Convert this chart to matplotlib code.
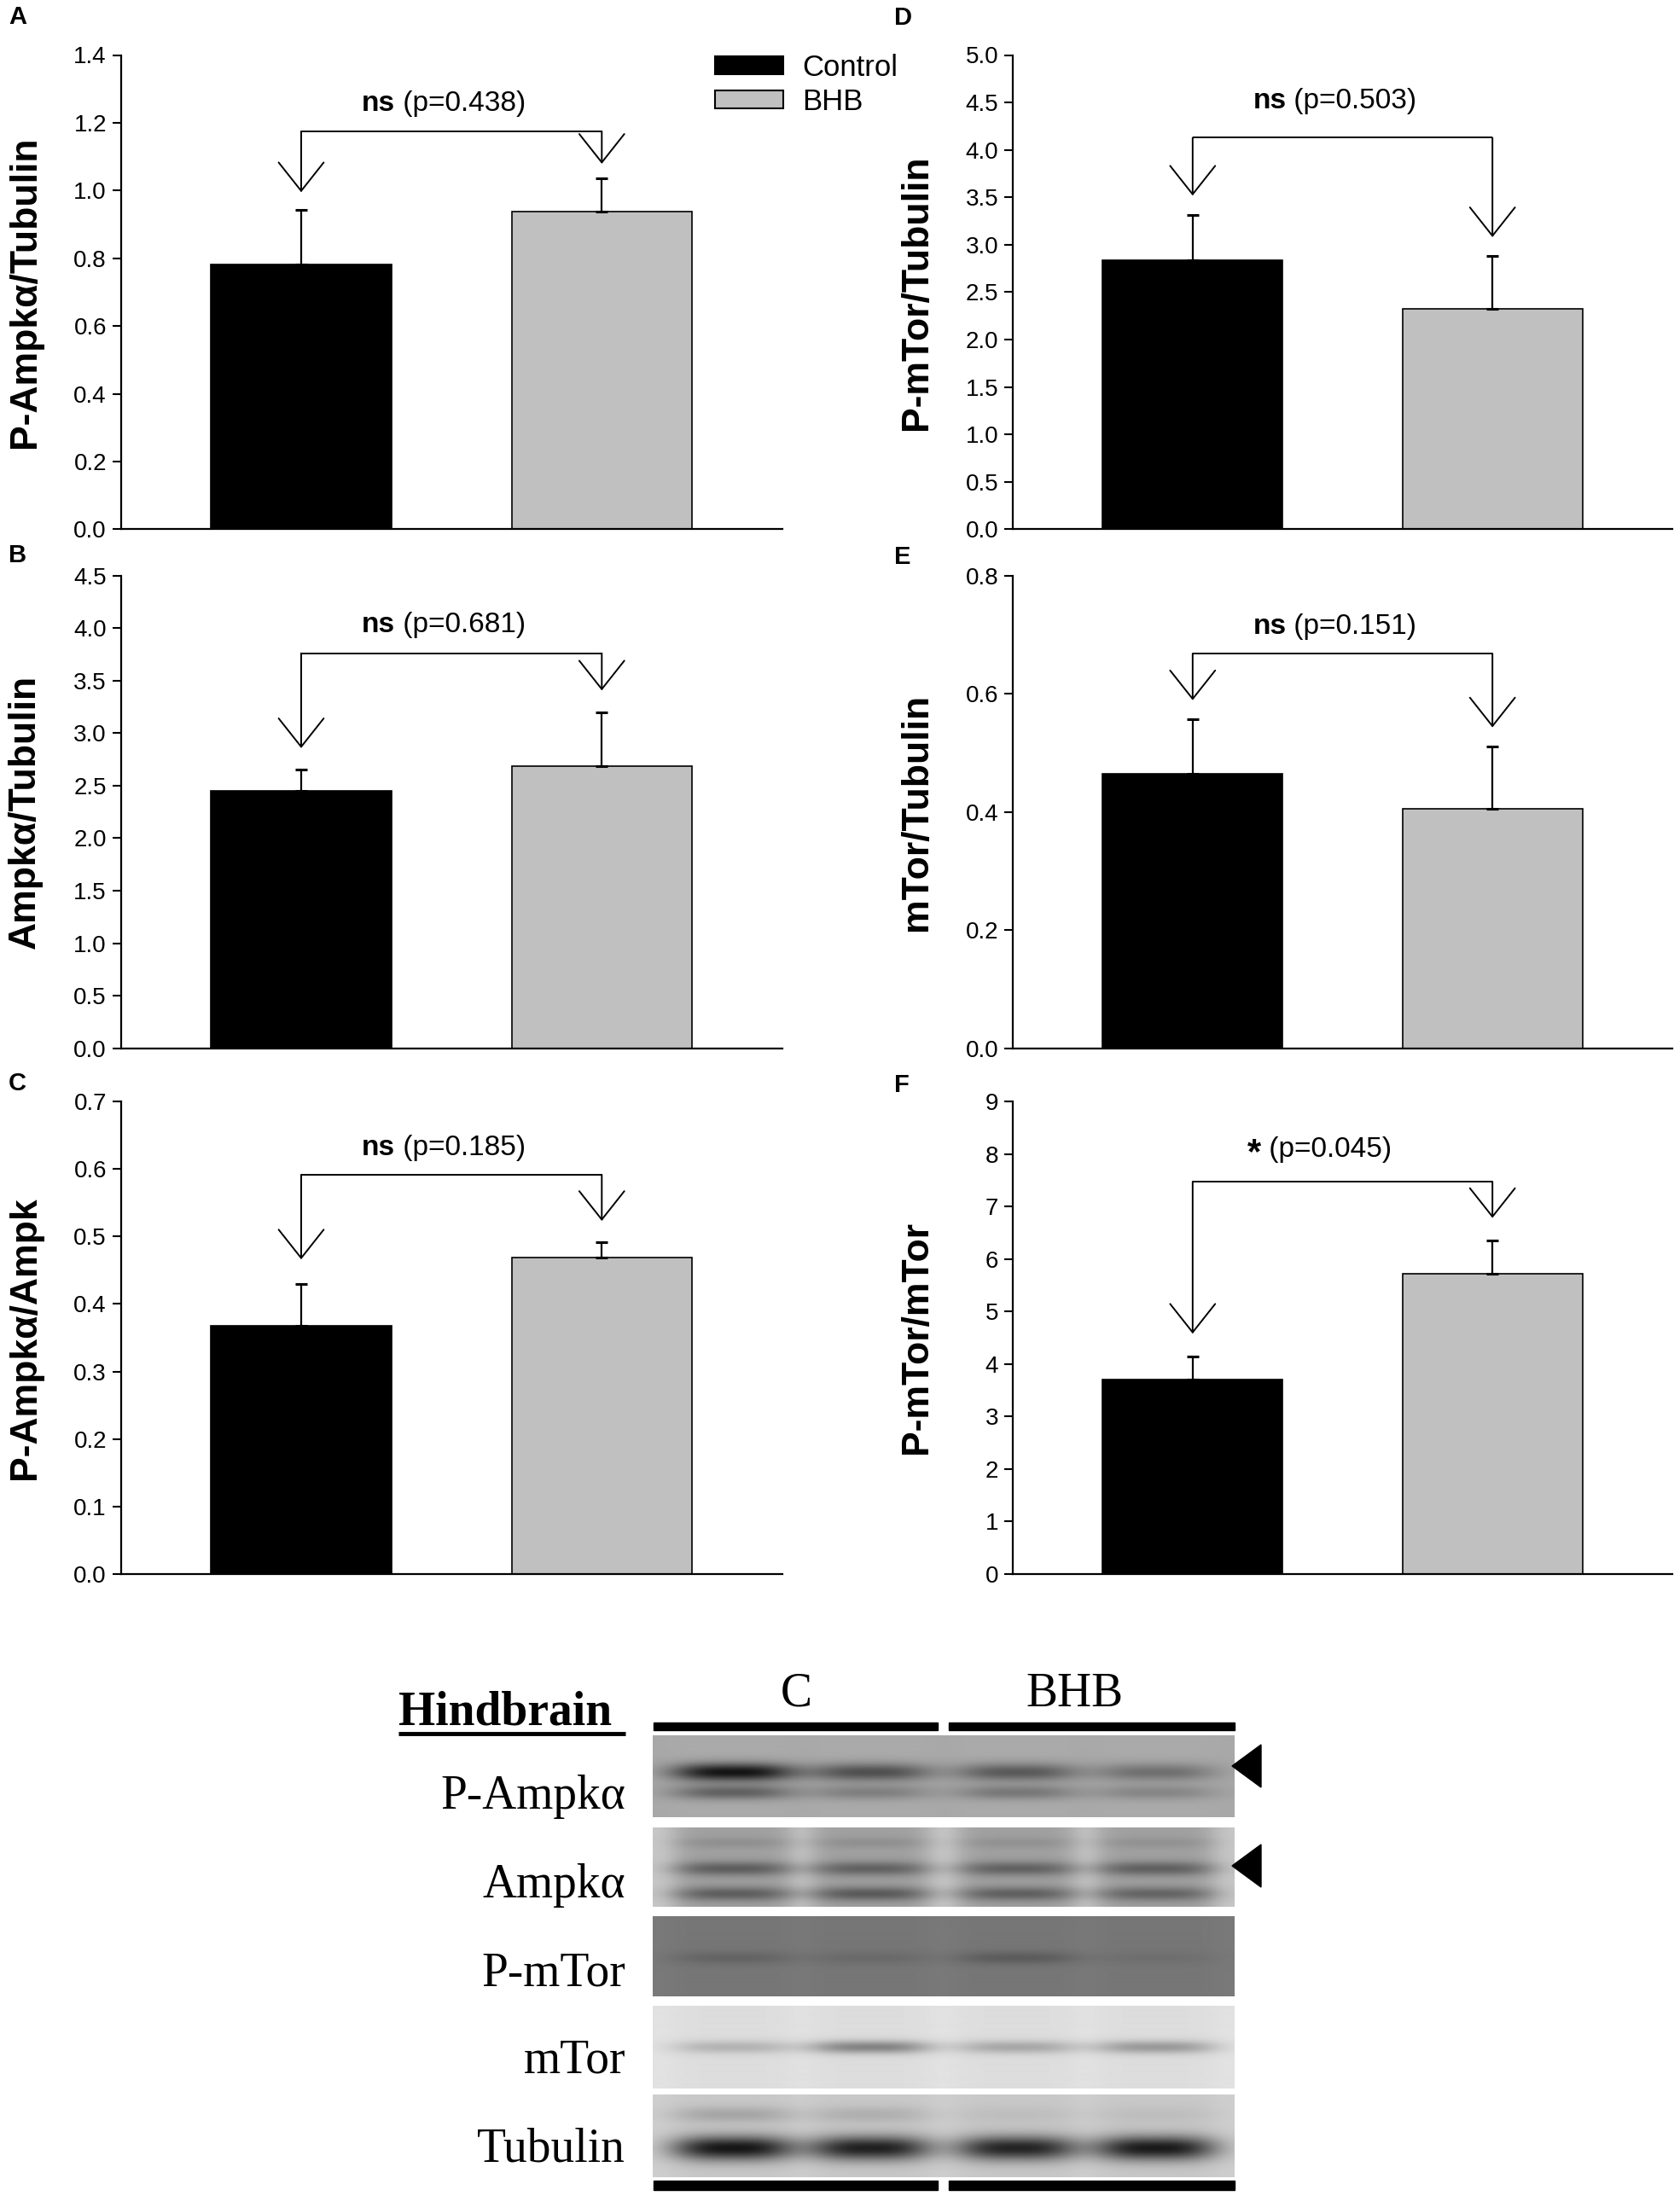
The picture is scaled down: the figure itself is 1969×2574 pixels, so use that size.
"""Hindbrain Ampk / mTor western blot quantification (panels A-F) with blot image."""

import matplotlib

matplotlib.use("Agg")

import matplotlib.pyplot as plt
import numpy as np
from matplotlib.patches import Patch, Polygon, Rectangle

W, H = 1969, 2574
DPI = 100

plt.rcParams["font.family"] = ["Liberation Sans", "DejaVu Sans"]

groups = ["Control", "BHB"]
group_colors = ["black", "#c0c0c0"]

panel_letters = ["A", "B", "C", "D", "E", "F"]
ylabels = [
    "P-Ampk\u03b1/Tubulin",
    "Ampk\u03b1/Tubulin",
    "P-Ampk\u03b1/Ampk",
    "P-mTor/Tubulin",
    "mTor/Tubulin",
    "P-mTor/mTor",
]

# means and upper SEM for Control, BHB
means_a = [0.783, 0.937]
sem_a = [0.159, 0.100]
means_b = [2.454, 2.683]
sem_b = [0.201, 0.514]
means_c = [0.368, 0.469]
sem_c = [0.061, 0.022]
means_d = [2.833, 2.328]
sem_d = [0.479, 0.550]
means_e = [0.465, 0.406]
sem_e = [0.092, 0.104]
means_f = [3.704, 5.725]
sem_f = [0.437, 0.627]

# y-axis ranges and tick steps
ymax = [1.4, 4.5, 0.7, 5.0, 0.8, 9]
ystep = [0.2, 0.5, 0.1, 0.5, 0.2, 1]

# significance brackets
sig_marks = ["ns", "ns", "ns", "ns", "ns", "*"]
p_values = ["0.438", "0.681", "0.185", "0.503", "0.151", "0.045"]
bracket_y = [1.175, 3.76, 0.5915, 4.128, 0.668, 7.472]
arrow_tips = [
    [0.995, 1.079],
    [2.857, 3.406],
    [0.466, 0.523],
    [3.518, 3.080],
    [0.589, 0.543],
    [4.577, 6.78],
]
label_y = [1.257, 4.03, 0.631, 4.51, 0.713, 8.01]

# blot data: lane centres (fraction of strip width) and bands per strip
blot_rows = ["P-Ampk\u03b1", "Ampk\u03b1", "P-mTor", "mTor", "Tubulin"]
lane_centers = [0.138, 0.374, 0.626, 0.865]
strip_background = [170, 160, 118, 221, 200]
strip_gap = [168, 198, 121, 226, 206]
strip_bands = [
    [(0.45, 0.11, [150, 90, 80, 58]), (0.70, 0.09, [72, 42, 50, 36])],
    [(0.19, 0.07, [16, 16, 14, 14]), (0.52, 0.09, [66, 62, 62, 64]), (0.84, 0.09, [66, 70, 64, 60])],
    [(0.52, 0.08, [18, 12, 26, 7])],
    [(0.50, 0.08, [42, 90, 54, 68])],
    [(0.24, 0.10, [34, 24, 10, 10]), (0.65, 0.15, [178, 168, 164, 174])],
]


def px_rect(x0, y0, x1, y1):
    return [x0 / W, 1 - y1 / H, (x1 - x0) / W, (y1 - y0) / H]


def draw_panel(ax, idx, means, sems):
    x_pos = np.array([1, 2])
    ax.bar(x_pos, means, width=0.6, color=group_colors, edgecolor="black",
           linewidth=1.2, zorder=2)
    ax.errorbar(x_pos, means, yerr=[np.zeros(2), sems], fmt="none", ecolor="black",
                elinewidth=1.6, capsize=5, capthick=2.2, zorder=3)

    ax.set_xlim(0.4, 2.6)
    ax.set_ylim(0, ymax[idx])
    ticks = np.arange(0, ymax[idx] + ystep[idx] / 2, ystep[idx])
    ax.set_yticks(ticks)
    if ystep[idx] >= 1:
        ax.set_yticklabels([f"{t:.0f}" for t in ticks])
    else:
        ax.set_yticklabels([f"{t:.1f}" for t in ticks])
    ax.set_xticks([])
    for side in ["top", "right"]:
        ax.spines[side].set_visible(False)
    for side in ["left", "bottom"]:
        ax.spines[side].set_linewidth(1.6)
        ax.spines[side].set_zorder(4)
    ax.tick_params(axis="y", direction="out", length=7, width=1.5, labelsize=20, pad=5)
    ax.text(-0.145, 0.5, ylabels[idx], transform=ax.transAxes, rotation=90,
            ha="center", va="center", fontsize=32, fontweight="bold")

    # bracket with open arrows down to each bar
    by = bracket_y[idx]
    ax.plot(x_pos, [by, by], color="black", lw=1.4, zorder=3, solid_capstyle="butt")
    for xv, tip in zip(x_pos, arrow_tips[idx]):
        ax.annotate("", xy=(xv, tip), xytext=(xv, by),
                    arrowprops=dict(arrowstyle="->,head_length=1.2,head_width=0.95",
                                    lw=1.4, color="black", shrinkA=0, shrinkB=0,
                                    mutation_scale=20), zorder=3)

    mark = sig_marks[idx]
    split_x = 1.312 if mark == "ns" else 1.228
    t1 = ax.text(split_x, label_y[idx], mark, ha="right", va="center",
                 fontsize=24 if mark == "ns" else 30, fontweight="bold")
    ax.annotate(f" (p={p_values[idx]})", xy=(1, 0.5 if mark == "ns" else 0.62),
                xycoords=t1, ha="left", va="center", fontsize=24)


def blot_image(bg, gap, bands, n_rows=100, n_cols=682):
    """Build a grey-level strip from lane background and band darkness values."""
    yy = np.linspace(0, 1, n_rows)[:, None]
    xx = np.linspace(0, 1, n_cols)[None, :]
    lane_mask = np.zeros_like(xx)
    for c in lane_centers:
        lane_mask = lane_mask + np.exp(-(((xx - c) / 0.105) ** 6))
    img = gap + (bg - gap) * np.clip(lane_mask, 0, 1) + 0 * yy
    for pos, sigma, depth in bands:
        for c, d in zip(lane_centers, depth):
            band_y = np.exp(-(((yy - pos) / sigma) ** 2))
            band_x = np.exp(-np.abs((xx - c) / 0.105) ** 3)
            img = img - d * band_y * band_x
    return np.clip(img, 0, 255)


fig = plt.figure(figsize=(W / DPI, H / DPI), dpi=DPI)

col_x = [(141.6, 916.7), (1187.0, 1960.0)]
row_y = [(64.5, 620.5), (674.6, 1228.8), (1291.0, 1845.0)]
all_means = [means_a, means_b, means_c, means_d, means_e, means_f]
all_sems = [sem_a, sem_b, sem_c, sem_d, sem_e, sem_f]
letter_pos = [(10, 6), (10, 637), (10, 1256), (1048, 7), (1048, 639), (1048, 1258)]

axes = []
for idx in range(6):
    col, row = divmod(idx, 3)
    (x0, x1), (y0, y1) = col_x[col], row_y[row]
    ax = fig.add_axes(px_rect(x0, y0, x1, y1))
    draw_panel(ax, idx, all_means[idx], all_sems[idx])
    axes.append(ax)
    lx, ly = letter_pos[idx]
    fig.text(lx / W, 1 - ly / H, panel_letters[idx], ha="left", va="top",
             fontsize=21, fontweight="bold")

handles = [Patch(facecolor=c, edgecolor="black", linewidth=1.5) for c in group_colors]
axes[0].legend(handles, groups, loc="upper left", bbox_to_anchor=(838 / W, 1 - 63 / H),
               bbox_transform=fig.transFigure, frameon=False, fontsize=25,
               handlelength=2.3, handleheight=0.55, handletextpad=0.65,
               labelspacing=0.2, borderpad=0, borderaxespad=0)

# blot panel, drawn in figure pixel coordinates
bax = fig.add_axes([0, 0, 1, 1], zorder=-1)
bax.set_xlim(0, W)
bax.set_ylim(H, 0)
bax.axis("off")

serif = ["Liberation Serif", "DejaVu Serif"]
strip_x = (765, 1447)
strip_y = [(2034, 2130), (2142, 2235), (2246, 2340), (2351, 2448), (2455, 2552)]
label_base = [2120, 2224, 2328, 2429, 2533]

for i, name in enumerate(blot_rows):
    img = blot_image(strip_background[i], strip_gap[i], strip_bands[i])
    y0, y1 = strip_y[i]
    bax.imshow(img, cmap="gray", vmin=0, vmax=255, aspect="auto", interpolation="bilinear",
               extent=(strip_x[0], strip_x[1], y1, y0))
    bax.text(733, label_base[i], name, ha="right", va="baseline", fontsize=40, family=serif)

bax.text(467, 2021, "Hindbrain", ha="left", va="baseline", fontsize=40,
         fontweight="bold", family=serif)
bax.plot([467, 733], [2032, 2032], color="black", lw=3.5, solid_capstyle="butt")
bax.text(933, 2000, "C", ha="center", va="baseline", fontsize=40, family=serif)
bax.text(1259, 2000, "BHB", ha="center", va="baseline", fontsize=40, family=serif)

for (bx0, bx1) in [(766, 1099), (1112, 1447)]:
    bax.add_patch(Rectangle((bx0, 2018.5), bx1 - bx0, 9.5, color="black"))
    bax.add_patch(Rectangle((bx0, 2556), bx1 - bx0, 11, color="black"))

for tip_y in [2070, 2187]:
    bax.add_patch(Polygon([(1444, tip_y), (1478, tip_y - 25), (1478, tip_y + 25)],
                          closed=True, color="black"))
bax.set_xlim(0, W)
bax.set_ylim(H, 0)

fig.savefig("out.png", dpi=DPI)
